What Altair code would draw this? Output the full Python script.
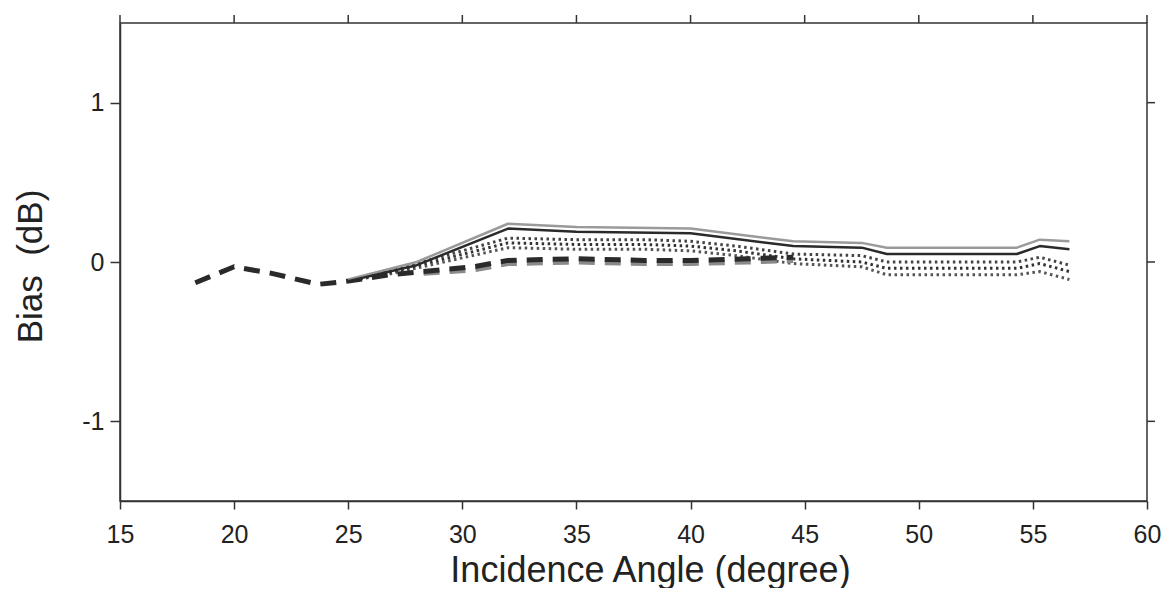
import altair as alt
import pandas as pd

# ---- data ----
# thick dashed series (dark and grey companion)
dash_dark_x = [18.3, 20.0, 21.6, 23.7, 25.0, 26.8, 28.3, 30.5, 32.0, 35.0, 38.0, 40.0, 42.5, 44.5]
dash_dark_y = [-0.13, -0.03, -0.07, -0.14, -0.12, -0.08, -0.06, -0.03, 0.01, 0.02, 0.01, 0.01, 0.02, 0.03]
dash_gray_x = [28.3, 30.5, 32.0, 35.0, 38.0, 40.0, 42.5, 44.5]
dash_gray_y = [-0.07, -0.05, -0.01, 0.0, -0.01, -0.01, 0.0, 0.01]

# solid series (light upper, dark lower)
solid_x = [25.0, 28.0, 32.0, 35.0, 40.0, 44.5, 47.5, 48.6, 54.3, 55.3, 56.6]
solid_light_y = [-0.11, 0.0, 0.24, 0.22, 0.21, 0.13, 0.12, 0.09, 0.09, 0.14, 0.13]
solid_dark_y = [-0.12, -0.02, 0.21, 0.19, 0.18, 0.10, 0.09, 0.05, 0.05, 0.10, 0.08]

# dotted series
dot_x = [25.0, 27.0, 32.0, 35.0, 38.0, 40.0, 42.0, 44.5, 47.5, 48.6, 54.3, 55.3, 56.6]
dot_a_y = [-0.12, -0.05, 0.15, 0.14, 0.14, 0.13, 0.10, 0.05, 0.04, 0.00, 0.00, 0.03, -0.02]
dot_b_y = [-0.12, -0.06, 0.12, 0.11, 0.11, 0.10, 0.07, 0.02, 0.00, -0.04, -0.04, -0.01, -0.06]
dot_c_y = [-0.12, -0.07, 0.09, 0.08, 0.08, 0.07, 0.04, -0.01, -0.03, -0.08, -0.08, -0.06, -0.11]

x_ticks = [15, 20, 25, 30, 35, 40, 45, 50, 55, 60]
y_ticks = [-1, 0, 1]

FONT = "Liberation Sans"
INK = "#222222"
AX = "#333333"
W, H = 1027, 478


def frame(xs, ys):
    return pd.DataFrame({"x": xs, "y": ys})


xscale = alt.Scale(domain=[15, 60], nice=False, zero=False)
yscale = alt.Scale(domain=[-1.5, 1.5], nice=False, zero=False)

x_bottom = alt.X(
    "x:Q", scale=xscale,
    axis=alt.Axis(
        values=x_ticks, title="Incidence Angle (degree)", grid=False, labelFlush=False,
        tickSize=8, labelPadding=13, labelFontSize=25, labelFont=FONT, labelColor=INK,
        titleFontSize=36, titleFont=FONT, titleFontWeight="normal", titleColor=INK,
        titleX=530, titleY=80, titleBaseline="alphabetic",
        domainColor=AX, domainWidth=1.5, tickColor=AX, tickWidth=1.5,
    ),
)
y_left = alt.Y(
    "y:Q", scale=yscale,
    axis=alt.Axis(
        values=y_ticks, title="Bias\u00a0\u00a0(dB)", grid=False, labelFlush=False,
        labelExpr="datum.value < 0 ? '-' + abs(datum.value) : datum.label",
        tickSize=10, labelPadding=6, labelFontSize=25, labelFont=FONT, labelColor=INK,
        titleFontSize=35, titleFont=FONT, titleFontWeight="normal", titleColor=INK,
        titleX=-72, titleY=243, titleAngle=270, titleBaseline="bottom",
        domainColor=AX, domainWidth=1.5, tickColor=AX, tickWidth=1.5,
    ),
)


def line(df, color, width, dash=None):
    kw = dict(color=color, strokeWidth=width, strokeCap="butt", strokeJoin="round")
    if dash is not None:
        kw["strokeDash"] = dash
    return alt.Chart(df).mark_line(**kw).encode(x=x_bottom, y=y_left)


dot_style = [2.5, 3.5]
layers = [
    line(frame(dot_x, dot_c_y), "#555555", 3, dot_style),
    line(frame(dot_x, dot_b_y), "#333333", 3, dot_style),
    line(frame(dot_x, dot_a_y), "#444444", 3, dot_style),
    line(frame(dash_gray_x, dash_gray_y), "#8a8a8a", 5, [16, 10]),
    line(frame(dash_dark_x, dash_dark_y), "#2a2a2a", 5, [16, 10]),
    line(frame(solid_x, solid_light_y), "#9a9a9a", 2.5),
    line(frame(solid_x, solid_dark_y), "#2a2a2a", 2.5),
]

# tick marks on the top and right edges of the frame
top_ticks = alt.Chart(pd.DataFrame({"x": x_ticks})).mark_rule(
    color=AX, strokeWidth=1.5
).encode(x=x_bottom, y=alt.value(0), y2=alt.value(-8))

right_ticks = alt.Chart(pd.DataFrame({"y": y_ticks})).mark_rule(
    color=AX, strokeWidth=1.5
).encode(y=y_left, x=alt.value(W), x2=alt.value(W + 8))

chart = (
    alt.layer(*layers, top_ticks, right_ticks)
    .properties(
        width=W, height=H,
        autosize=alt.AutoSizeParams(type="none"),
        padding={"left": 112, "top": 15, "right": 14, "bottom": 87},
        background="white",
    )
    .configure_view(stroke=AX, strokeWidth=1.5)
)

chart.save("out.html", embed_options={"renderer": "svg", "actions": False})
